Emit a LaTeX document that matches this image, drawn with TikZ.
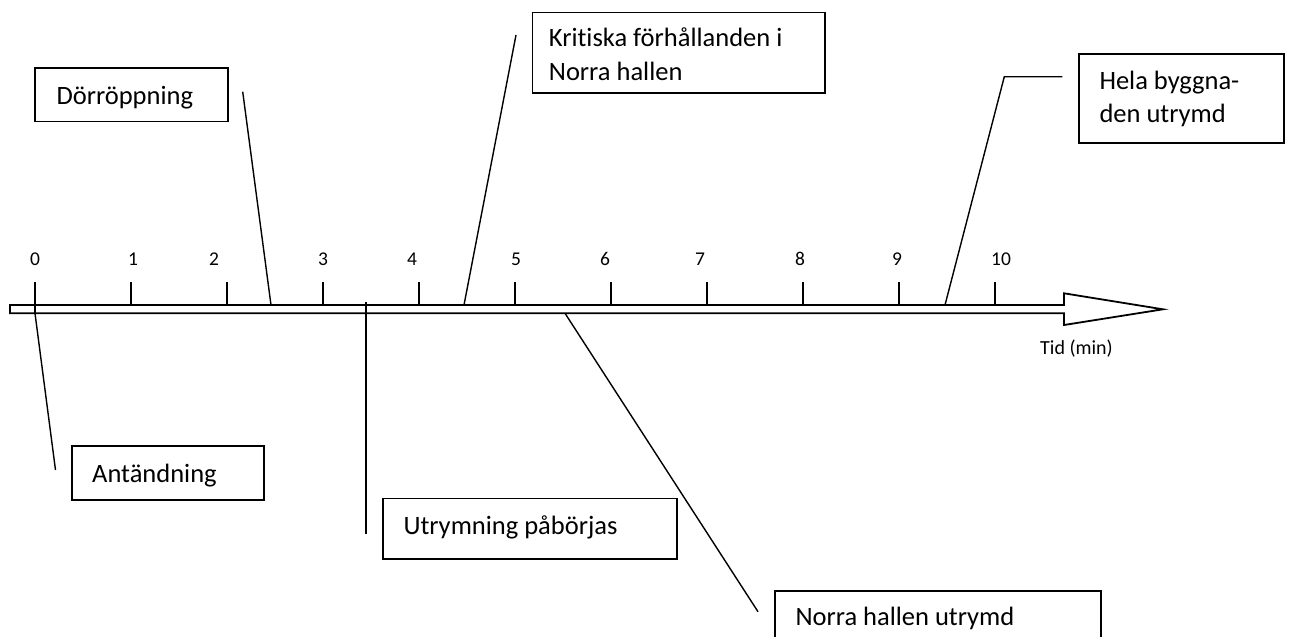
\documentclass[tikz,border=0pt]{standalone}
\usepackage{fontspec}
\setmainfont{Carlito}[Ligatures=NoCommon]
\newcommand{\boxlines}[1]{\begin{tabular}[t]{@{}l@{}}#1\end{tabular}}
\begin{document}
\begin{tikzpicture}[x=1pt,y=-1pt,
  box/.style={draw, line width=1.6pt, inner sep=0pt, anchor=north west},
  boxtext/.style={inner sep=0pt, anchor=base west, font=\fontsize{26.5}{33.5}\selectfont},
  leader/.style={line width=1.4pt},
  tickmark/.style={line width=1.8pt},
  ticklabel/.style={font=\fontsize{19.5}{23}\selectfont, inner sep=0pt, anchor=base},
  axisline/.style={line width=1.8pt, line join=miter}]
\useasboundingbox (0,0) rectangle (1291,637);

% time axis drawn as an outlined block arrow
\draw[axisline] (10,305) -- (1064,305) -- (1064,293.3) -- (1163,309.3)
  -- (1064,325) -- (1064,313.3) -- (10,313.3) -- cycle;

% minute ticks
\foreach \i in {0,...,10}{
  \draw[tickmark] (35+96*\i,282) -- (35+96*\i,305);
}
\draw[tickmark] (35,305) -- (35,313.3);

% tick labels
\foreach \lx/\lt [count=\k] in {35/0,133/1,214/2,323/3,412/4,516/5,605/6,700/7,800/8,897/9,1001/10}{
  \node[ticklabel] (lab\k) at (\lx,265) {\lt};
}
\node[font=\fontsize{20}{24}\selectfont, inner sep=0pt, anchor=base west] (tid) at (1040,354.3) {Tid (min)};

% event boxes
\node[box, minimum width=192pt, minimum height=54pt] (ant) at (71,445) {};
\node[box, minimum width=193pt, minimum height=53.4pt] (dor) at (34.3,67.3) {};
\node[box, minimum width=292.3pt, minimum height=80.6pt] (krit) at (531.7,11.7) {};
\node[box, minimum width=205pt, minimum height=89pt] (hela) at (1078.3,53.3) {};
\node[box, minimum width=293.7pt, minimum height=60.6pt] (utr) at (382.3,497.7) {};
\node[box, minimum width=325.7pt, minimum height=52pt] (norra) at (774.3,590) {};

% box texts
\node[boxtext] (antT) at ([shift={(21,37)}]ant.north west) {Antändning};
\node[boxtext] (dorT) at ([shift={(22,37)}]dor.north west) {Dörröppning};
\node[boxtext] (kritT) at ([shift={(17,35)}]krit.north west)
  {\boxlines{Kritiska förhållanden i\\Norra hallen}};
\node[boxtext] (helaT) at ([shift={(21,35.7)}]hela.north west)
  {\boxlines{Hela byggna-\\den utrymd}};
\node[boxtext] (utrT) at ([shift={(21,36.3)}]utr.north west) {Utrymning påbörjas};
\node[boxtext] (norraT) at ([shift={(21,35)}]norra.north west) {Norra hallen utrymd};

% leader line end points
\coordinate (a0) at (35,313.3);   \coordinate (a1) at (55.5,470);
\coordinate (d0) at (271,305);    \coordinate (d1) at (242.7,91.7);
\coordinate (k0) at (464,305);    \coordinate (k1) at (516,35);
\coordinate (u0) at (366,302);    \coordinate (u1) at (366,534);
\coordinate (n0) at (565,313.3);  \coordinate (n1) at (758,611.7);
\coordinate (h0) at (945,305);    \coordinate (h1) at (1004.3,76.7);
\coordinate (h2) at (1062.3,76.7);

% leader lines
\draw[leader] (a0) -- (a1);
\draw[leader] (d0) -- (d1);
\draw[leader] (k0) -- (k1);
\draw[leader] (u0) -- (u1);
\draw[leader] (n0) -- (n1);
\draw[leader] (h0) -- (h1) -- (h2);
\end{tikzpicture}
\end{document}
